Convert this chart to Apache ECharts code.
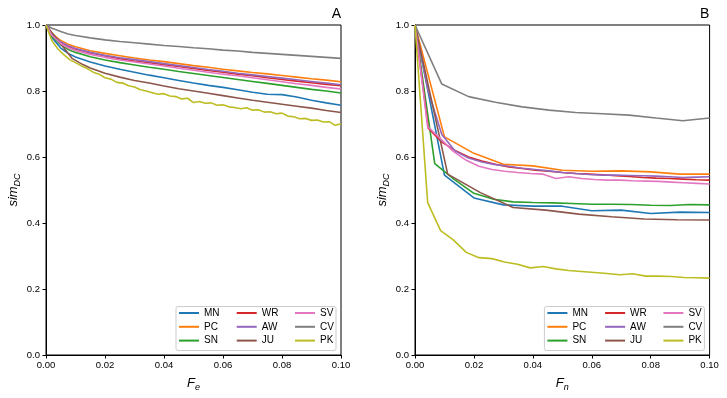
<!DOCTYPE html>
<html>
<head>
<meta charset="utf-8">
<title>sim_DC vs F_e / F_n</title>
<script src="https://cdn.jsdelivr.net/npm/echarts@6/dist/echarts.min.js"></script>
<style>
  html, body { margin: 0; padding: 0; background: #fff; }
  #main { width: 727px; height: 398px; }
</style>
</head>
<body>
<div id="main"></div>
<script>
// series names and colours (matplotlib default cycle)
var names = ['MN', 'PC', 'SN', 'WR', 'AW', 'JU', 'SV', 'CV', 'PK'];
var colors = ['#1f77b4', '#ff7f0e', '#2ca02c', '#d62728', '#9467bd', '#8c564b', '#e377c2', '#7f7f7f', '#bcbd22'];

// ---- panel A: fraction of edges removed (F_e)
var feA = [0, 0.002, 0.005, 0.0075, 0.01, 0.015, 0.02, 0.025, 0.03, 0.035, 0.04, 0.045, 0.05,
           0.055, 0.06, 0.065, 0.07, 0.075, 0.08, 0.085, 0.09, 0.095, 0.1];
var mnA = [1, 0.962, 0.930, 0.914, 0.903, 0.888, 0.876, 0.866, 0.857, 0.848, 0.840, 0.832, 0.824,
           0.817, 0.811, 0.804, 0.796, 0.790, 0.789, 0.782, 0.772, 0.764, 0.757];
var pcA = [1, 0.975, 0.953, 0.942, 0.934, 0.922, 0.914, 0.907, 0.900, 0.894, 0.889, 0.883, 0.877,
           0.872, 0.866, 0.861, 0.856, 0.852, 0.847, 0.842, 0.837, 0.833, 0.828];
var snA = [1, 0.966, 0.940, 0.926, 0.917, 0.904, 0.894, 0.886, 0.879, 0.872, 0.866, 0.859, 0.853,
           0.847, 0.841, 0.835, 0.829, 0.823, 0.817, 0.811, 0.805, 0.800, 0.794];
var wrA = [1, 0.971, 0.947, 0.935, 0.927, 0.915, 0.906, 0.898, 0.891, 0.886, 0.880, 0.874, 0.868,
           0.862, 0.857, 0.851, 0.846, 0.840, 0.835, 0.830, 0.825, 0.820, 0.816];
var awA = [1, 0.972, 0.949, 0.937, 0.929, 0.917, 0.908, 0.901, 0.895, 0.889, 0.883, 0.877, 0.871,
           0.865, 0.860, 0.854, 0.849, 0.844, 0.839, 0.834, 0.829, 0.824, 0.819];
var svA = [1, 0.969, 0.944, 0.931, 0.923, 0.911, 0.902, 0.894, 0.888, 0.882, 0.876, 0.869, 0.863,
           0.857, 0.851, 0.846, 0.840, 0.834, 0.828, 0.822, 0.817, 0.811, 0.806];
var cvA = [1, 0.990, 0.980, 0.973, 0.968, 0.961, 0.955, 0.950, 0.946, 0.942, 0.938, 0.935, 0.931,
           0.928, 0.924, 0.921, 0.917, 0.914, 0.911, 0.908, 0.905, 0.902, 0.899];
var feJU = [0, 0.0088, 0.0125, 0.015, 0.02, 0.025, 0.03, 0.035, 0.04, 0.045, 0.05,
            0.055, 0.06, 0.065, 0.07, 0.075, 0.08, 0.085, 0.09, 0.095, 0.1];
var juA = [1, 0.899, 0.880, 0.870, 0.854, 0.842, 0.832, 0.824, 0.815, 0.807, 0.800,
           0.793, 0.786, 0.779, 0.772, 0.766, 0.760, 0.754, 0.748, 0.741, 0.735];
var fePK = [0, 0.002, 0.004, 0.006, 0.008, 0.01, 0.012, 0.014, 0.016, 0.018, 0.02, 0.022, 0.024,
            0.026, 0.028, 0.03, 0.032, 0.034, 0.036, 0.038, 0.04, 0.042, 0.044, 0.046, 0.048, 0.05,
            0.052, 0.054, 0.056, 0.058, 0.06, 0.062, 0.064, 0.066, 0.068, 0.07, 0.072, 0.074, 0.076,
            0.078, 0.08, 0.082, 0.084, 0.086, 0.088, 0.09, 0.092, 0.094, 0.096, 0.098, 0.1];
var pkA = [1, 0.952, 0.928, 0.910, 0.895, 0.886, 0.876, 0.868, 0.857, 0.851, 0.840, 0.836, 0.826,
           0.824, 0.816, 0.812, 0.804, 0.800, 0.795, 0.790, 0.792, 0.785, 0.783, 0.776, 0.778, 0.765,
           0.768, 0.763, 0.764, 0.757, 0.758, 0.752, 0.750, 0.746, 0.749, 0.742, 0.743, 0.736, 0.737,
           0.731, 0.733, 0.724, 0.722, 0.716, 0.717, 0.711, 0.712, 0.706, 0.707, 0.696, 0.701];

// ---- panel B: fraction of nodes removed (F_n), step differs per network
var fnTen = [0, 0.01, 0.02, 0.03, 0.04, 0.05, 0.06, 0.07, 0.08, 0.09, 0.1];
var fnSN = [0, 0.0067, 0.0133, 0.02, 0.0267, 0.0333, 0.04, 0.0467, 0.0533, 0.06, 0.0667, 0.0733,
            0.08, 0.0867, 0.0933, 0.1];
var fnJU = [0, 0.0111, 0.0222, 0.0333, 0.0444, 0.0556, 0.0667, 0.0778, 0.0889, 0.1];
var fnCV = [0, 0.0091, 0.0182, 0.0273, 0.0364, 0.0455, 0.0545, 0.0636, 0.0727, 0.0818, 0.0909, 0.1];
var fnWR = [0, 0.0045, 0.0091, 0.0136, 0.0182, 0.0227, 0.0273, 0.0318, 0.0364, 0.0409, 0.0455, 0.05,
            0.0545, 0.0591, 0.0636, 0.0682, 0.0727, 0.0773, 0.0818, 0.0864, 0.0909, 0.0955, 0.1];
var fnPK = [0, 0.0043, 0.0087, 0.013, 0.0174, 0.0217, 0.0261, 0.0304, 0.0348, 0.0391, 0.0435, 0.0478,
            0.0522, 0.0565, 0.0609, 0.0652, 0.0696, 0.0739, 0.0783, 0.0826, 0.087, 0.0913, 0.0957, 0.1];
var mnB = [1, 0.545, 0.476, 0.455, 0.451, 0.451, 0.437, 0.439, 0.429, 0.433, 0.432];
var pcB = [1, 0.661, 0.611, 0.578, 0.573, 0.560, 0.557, 0.558, 0.555, 0.548, 0.548];
var snB = [1, 0.580, 0.532, 0.490, 0.472, 0.464, 0.462, 0.461, 0.459, 0.457, 0.457, 0.456,
           0.454, 0.453, 0.456, 0.455];
var wrB = [1, 0.687, 0.645, 0.620, 0.600, 0.588, 0.578, 0.570, 0.565, 0.560, 0.557, 0.553,
           0.550, 0.548, 0.546, 0.543, 0.541, 0.538, 0.536, 0.535, 0.533, 0.531, 0.530];
var awB = [1, 0.800, 0.668, 0.618, 0.597, 0.585, 0.577, 0.572, 0.566, 0.562, 0.558, 0.553,
           0.550, 0.547, 0.545, 0.545, 0.544, 0.543, 0.542, 0.540, 0.538, 0.539, 0.540];
var juB = [1, 0.548, 0.492, 0.447, 0.439, 0.427, 0.419, 0.412, 0.410, 0.409];
var svB = [1, 0.692, 0.655, 0.617, 0.590, 0.572, 0.562, 0.557, 0.553, 0.550, 0.548, 0.535,
           0.540, 0.535, 0.532, 0.530, 0.530, 0.528, 0.527, 0.526, 0.524, 0.522, 0.520, 0.518];
var cvB = [1, 0.821, 0.783, 0.766, 0.752, 0.742, 0.735, 0.731, 0.727, 0.718, 0.710, 0.718];
var pkB = [1, 0.462, 0.377, 0.349, 0.311, 0.295, 0.292, 0.282, 0.275, 0.264, 0.268, 0.261,
           0.256, 0.253, 0.250, 0.247, 0.243, 0.246, 0.239, 0.239, 0.238, 0.235, 0.234, 0.233];

var panelA = {
  MN: [feA, mnA], PC: [feA, pcA], SN: [feA, snA], WR: [feA, wrA], AW: [feA, awA],
  JU: [feJU, juA], SV: [feA, svA], CV: [feA, cvA], PK: [fePK, pkA]
};
var panelB = {
  MN: [fnTen, mnB], PC: [fnTen, pcB], SN: [fnSN, snB], WR: [fnWR, wrB], AW: [fnWR, awB],
  JU: [fnJU, juB], SV: [fnPK, svB], CV: [fnCV, cvB], PK: [fnPK, pkB]
};

function pairs(xs, ys) {
  return xs.map(function (x, i) { return [x, ys[i]]; });
}

var font = 'Liberation Sans, Arial, sans-serif';
var grids = [
  { left: 46, top: 25, width: 295, height: 330 },
  { left: 415, top: 25, width: 294.6, height: 330 }
];
var xNames = ['{i|F}{s|e}', '{i|F}{s|n}'];
var nameRich = {
  i: { fontSize: 13, fontStyle: 'italic', fontFamily: font, color: '#000' },
  s: { fontSize: 9, fontStyle: 'italic', fontFamily: font, color: '#000', padding: [8, 0, 0, 0] }
};

function xAxis(i) {
  return {
    type: 'value', gridIndex: i, min: 0, max: 0.1, interval: 0.02,
    name: xNames[i], nameLocation: 'middle', nameGap: 20,
    nameTextStyle: { rich: nameRich },
    axisLine: { lineStyle: { color: '#000', width: 1 } },
    axisTick: { length: 3.5, lineStyle: { color: '#000' } },
    axisLabel: { color: '#000', fontSize: 9.5, fontFamily: font, margin: 5,
                 formatter: function (v) { return v.toFixed(2); } },
    splitLine: { show: false }
  };
}
function yAxis(i) {
  return {
    type: 'value', gridIndex: i, min: 0, max: 1, interval: 0.2,
    name: '{i|sim}{s|DC}', nameLocation: 'middle', nameGap: 24,
    nameTextStyle: { rich: nameRich },
    axisLine: { lineStyle: { color: '#000', width: 1 } },
    axisTick: { length: 3.5, lineStyle: { color: '#000' } },
    axisLabel: { color: '#000', fontSize: 9.5, fontFamily: font, margin: 6,
                 formatter: function (v) { return v.toFixed(1); } },
    splitLine: { show: false }
  };
}

var series = [];
[panelA, panelB].forEach(function (panel, g) {
  names.forEach(function (n, k) {
    series.push({
      name: n, type: 'line', xAxisIndex: g, yAxisIndex: g,
      data: pairs(panel[n][0], panel[n][1]),
      showSymbol: false, color: colors[k],
      lineStyle: { width: 1.6, color: colors[k] },
      emphasis: { disabled: true }
    });
  });
});

// legends: three columns per panel
var legends = [];
var colLeft = [179, 236.7, 295];
[0, 368.4].forEach(function (dx) {
  for (var c = 0; c < 3; c++) {
    legends.push({
      orient: 'vertical', left: colLeft[c] + dx, top: 308, padding: 0,
      itemGap: 3.8, itemWidth: 20, itemHeight: 2, icon: 'rect', selectedMode: false,
      textStyle: { fontSize: 10, fontFamily: font, color: '#000' },
      data: names.slice(c * 3, c * 3 + 3)
    });
  }
});

var graphic = [];
[0, 368.4].forEach(function (dx, g) {
  graphic.push({
    type: 'rect', z: 3, silent: true,
    shape: { x: 176 + dx, y: 306.5, width: 160, height: 44, r: 2 },
    style: { fill: 'rgba(255,255,255,0.8)', stroke: '#cccccc', lineWidth: 1 }
  });
  graphic.push({
    type: 'text', z: 5, silent: true, x: 341 + dx, y: 14,
    style: { text: g ? 'B' : 'A', fontSize: 14, fontFamily: font, fill: '#000',
             align: 'right', verticalAlign: 'middle' }
  });
});

var chart = echarts.init(document.getElementById('main'), null, { renderer: 'canvas' });
chart.setOption({
  animation: false,
  backgroundColor: '#fff',
  grid: grids.map(function (g) {
    return Object.assign({ show: true, borderColor: '#000', borderWidth: 1, backgroundColor: 'transparent' }, g);
  }),
  xAxis: [xAxis(0), xAxis(1)],
  yAxis: [yAxis(0), yAxis(1)],
  legend: legends,
  graphic: graphic,
  series: series
});
</script>
</body>
</html>
